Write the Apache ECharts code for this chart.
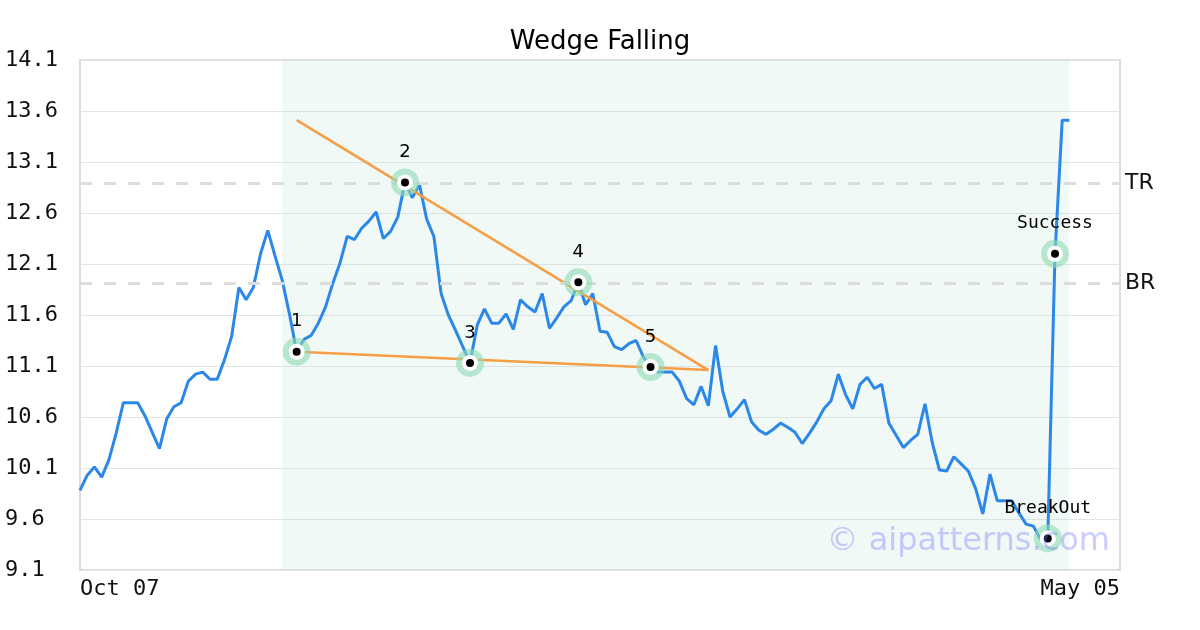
<!DOCTYPE html>
<html>
<head>
<meta charset="utf-8">
<script src="https://cdn.jsdelivr.net/npm/echarts@6/dist/echarts.min.js"></script>
<style>html,body{margin:0;padding:0;background:#fff}#c{width:1200px;height:630px}</style>
</head>
<body>
<div id="c"></div>
<script>
// ---- data ----
const TITLE = 'Wedge Falling';
const X_LABELS = ['Oct 07', 'May 05'];
const X_MAX = 144;
const Y_MIN = 9.1, Y_MAX = 14.1, Y_STEP = 0.5;
const prices = [
  9.88, 10.03, 10.11, 10.01, 10.18, 10.44, 10.74, 10.74, 10.74, 10.61,
  10.45, 10.29, 10.58, 10.70, 10.74, 10.95, 11.02, 11.04, 10.97, 10.97,
  11.16, 11.39, 11.87, 11.75, 11.87, 12.20, 12.43, 12.18, 11.94, 11.61,
  11.24, 11.36, 11.40, 11.52, 11.68, 11.91, 12.11, 12.37, 12.34, 12.45,
  12.52, 12.61, 12.35, 12.42, 12.56, 12.90, 12.75, 12.88, 12.54, 12.37,
  11.81, 11.60, 11.45, 11.29, 11.13, 11.50, 11.66, 11.52, 11.52, 11.61,
  11.46, 11.75, 11.68, 11.63, 11.81, 11.47, 11.57, 11.68, 11.74, 11.92,
  11.70, 11.81, 11.44, 11.43, 11.29, 11.26, 11.32, 11.35, 11.19, 11.09,
  11.04, 11.04, 11.04, 10.95, 10.78, 10.72, 10.90, 10.71, 11.30, 10.85,
  10.60, 10.68, 10.77, 10.55, 10.47, 10.43, 10.48, 10.54, 10.50, 10.45,
  10.34, 10.44, 10.55, 10.68, 10.76, 11.02, 10.82, 10.68, 10.92, 10.99,
  10.88, 10.92, 10.54, 10.42, 10.30, 10.37, 10.43, 10.73, 10.35, 10.08,
  10.07, 10.21, 10.14, 10.07, 9.90, 9.65, 10.04, 9.78, 9.78, 9.78,
  9.66, 9.55, 9.53, 9.40, 9.41, 12.20, 13.51, 13.51
];
const pivotIdx = [30, 45, 54, 69, 79];
const pivotNames = ['1', '2', '3', '4', '5'];
const eventIdx = [134, 135];
const eventNames = ['BreakOut', 'Success'];
const trendUpper = [[30, 13.51], [87, 11.06]];
const trendLower = [[30, 11.24], [87, 11.06]];
const TR = 12.89, BR = 11.91;
const shadeRange = [28, 137];
const WATERMARK = '© aipatterns.com';

// ---- build ----
const B = Y_MIN;
const mono = 'DejaVu Sans Mono';
const sans = 'DejaVu Sans';
const lineData = prices.map((v, i) => [i, v - B]);
const markPts = [];
pivotIdx.forEach((i, k) => markPts.push({ value: [i, prices[i] - B], name: pivotNames[k], font: sans }));
eventIdx.forEach((i, k) => markPts.push({ value: [i, prices[i] - B], name: eventNames[k], font: mono }));
const shift = arr => arr.map(p => [p[0], p[1] - B]);

const chart = echarts.init(document.getElementById('c'), null, { renderer: 'canvas' });
chart.setOption({
  animation: false,
  backgroundColor: '#ffffff',
  title: {
    text: TITLE, left: 'center', top: 24,
    textStyle: { fontFamily: sans, fontSize: 26, fontWeight: 'normal', color: '#000' }
  },
  grid: { left: 80, right: 80, top: 60, bottom: 60, show: true, borderColor: '#dddddd', borderWidth: 2, backgroundColor: 'transparent' },
  xAxis: {
    type: 'value', min: 0, max: X_MAX, interval: X_MAX,
    axisLine: { show: false }, axisTick: { show: false }, splitLine: { show: false },
    axisLabel: {
      fontFamily: mono, fontSize: 22, color: '#111', margin: 8,
      alignMinLabel: 'left', alignMaxLabel: 'right',
      formatter: v => v === 0 ? X_LABELS[0] : (v === X_MAX ? X_LABELS[1] : '')
    }
  },
  yAxis: {
    type: 'value', min: 0, max: Y_MAX - Y_MIN, interval: Y_STEP,
    axisLine: { show: false }, axisTick: { show: false },
    splitLine: { lineStyle: { color: '#e4e4e4', width: 1 } },
    axisLabel: {
      fontFamily: mono, fontSize: 22, color: '#111', align: 'left', margin: 75,
      padding: [4, 0, 0, 0],
      formatter: v => (v + B).toFixed(1)
    }
  },
  graphic: [{
    type: 'text', right: 90, top: 526, z: 100, silent: true,
    style: { text: WATERMARK, fontFamily: sans, fontSize: 32, fill: 'rgba(110,110,255,0.35)' }
  }],
  series: [
    {
      type: 'line', data: lineData, symbol: 'none', z: 3,
      lineStyle: { color: '#2b87e8', width: 3 },
      markArea: {
        silent: true,
        itemStyle: { color: 'rgba(180,225,205,0.2)' },
        data: [[{ xAxis: shadeRange[0] }, { xAxis: shadeRange[1] }]]
      },
      markLine: {
        silent: true, symbol: 'none',
        lineStyle: { color: '#dddddd', width: 3, type: [12, 12] },
        label: { position: 'end', distance: 5, fontFamily: sans, fontSize: 22, color: '#111' },
        data: [
          { yAxis: TR - B, label: { formatter: 'TR' } },
          { yAxis: BR - B, label: { formatter: 'BR' } }
        ]
      }
    },
    { type: 'line', data: shift(trendUpper), symbol: 'none', z: 4, lineStyle: { color: '#f79d45', width: 2.5 } },
    { type: 'line', data: shift(trendLower), symbol: 'none', z: 4, lineStyle: { color: '#f79d45', width: 2.5 } },
    {
      type: 'scatter', z: 5, symbolSize: 28,
      itemStyle: { color: 'rgba(140,218,180,0.6)', opacity: 1 },
      data: markPts.map(p => p.value)
    },
    { type: 'scatter', z: 6, symbolSize: 16, itemStyle: { color: '#ffffff', opacity: 1 }, data: markPts.map(p => p.value) },
    {
      type: 'scatter', z: 7, symbolSize: 8, itemStyle: { color: '#000000', opacity: 1 },
      data: markPts.map(p => ({
        value: p.value, name: p.name,
        label: { show: true, position: 'top', distance: 17, formatter: p.name, fontFamily: p.font, fontSize: 18, color: '#000' }
      }))
    }
  ]
});
</script>
</body>
</html>
